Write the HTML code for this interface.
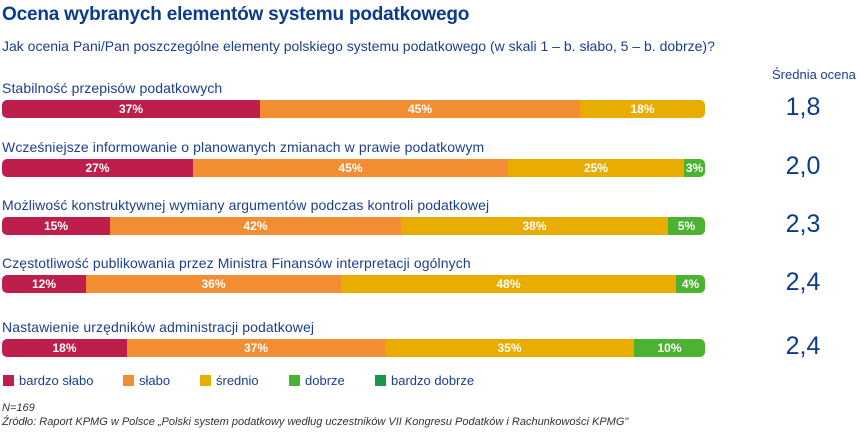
<!DOCTYPE html>
<html><head><meta charset="utf-8"><style>
body{margin:0;width:861px;height:448px;background:#fff;font-family:"Liberation Sans",sans-serif;position:relative;overflow:hidden}
.a{position:absolute;white-space:nowrap}
.t{left:2px;top:4px;font-size:19px;font-weight:bold;color:#0b3c8c;letter-spacing:-0.2px}
.q{left:2px;top:38px;font-size:14px;color:#1a3f8f}
.l{left:2px;font-size:14px;color:#1a3f8f;letter-spacing:0.1px}
.bar{position:absolute;left:2px;width:703px;height:18px;border-radius:5px;overflow:hidden;display:flex}
.bar div{height:100%;color:#fff;font-size:12px;font-weight:bold;display:flex;align-items:center;justify-content:center}
.r{background:#be1e4b}.o{background:#f38d32}.y{background:#e9ac00}.g{background:#4bb232}.dg{background:#18984a}
.avg{left:760px;width:86px;text-align:center;font-size:25px;color:#0b3c8c}
.lg{top:373px;font-size:13px;color:#1a3f8f}
.sw{position:absolute;top:375px;width:11px;height:11px}
.f{left:2px;font-size:11px;font-style:italic;color:#333}
</style></head><body>
<div class="a t">Ocena wybranych elementów systemu podatkowego</div>
<div class="a q">Jak ocenia Pani/Pan poszczególne elementy polskiego systemu podatkowego (w skali 1 – b. słabo, 5 – b. dobrze)?</div>
<div class="a" style="left:772px;top:67px;font-size:13px;color:#1a3f8f">Średnia ocena</div>

<div class="a l" style="top:80px">Stabilność przepisów podatkowych</div>
<div class="bar" style="top:100px"><div class="r" style="width:258px">37%</div><div class="o" style="width:320px">45%</div><div class="y" style="flex:1">18%</div></div>
<div class="a avg" style="top:93px">1,8</div>

<div class="a l" style="top:139px">Wcześniejsze informowanie o planowanych zmianach w prawie podatkowym</div>
<div class="bar" style="top:159px"><div class="r" style="width:191px">27%</div><div class="o" style="width:315px">45%</div><div class="y" style="width:176px">25%</div><div class="g" style="flex:1">3%</div></div>
<div class="a avg" style="top:152px">2,0</div>

<div class="a l" style="top:197px">Możliwość konstruktywnej wymiany argumentów podczas kontroli podatkowej</div>
<div class="bar" style="top:217px"><div class="r" style="width:108px">15%</div><div class="o" style="width:291px">42%</div><div class="y" style="width:267px">38%</div><div class="g" style="flex:1">5%</div></div>
<div class="a avg" style="top:210px">2,3</div>

<div class="a l" style="top:255px">Częstotliwość publikowania przez Ministra Finansów interpretacji ogólnych</div>
<div class="bar" style="top:275px"><div class="r" style="width:84px">12%</div><div class="o" style="width:255px">36%</div><div class="y" style="width:335px">48%</div><div class="g" style="flex:1">4%</div></div>
<div class="a avg" style="top:268px">2,4</div>

<div class="a l" style="top:319px">Nastawienie urzędników administracji podatkowej</div>
<div class="bar" style="top:339px"><div class="r" style="width:125px">18%</div><div class="o" style="width:258px">37%</div><div class="y" style="width:249px">35%</div><div class="g" style="flex:1">10%</div></div>
<div class="a avg" style="top:332px">2,4</div>

<div class="sw r" style="left:3px"></div><div class="a lg" style="left:19px">bardzo słabo</div>
<div class="sw o" style="left:123px"></div><div class="a lg" style="left:139px">słabo</div>
<div class="sw y" style="left:200px"></div><div class="a lg" style="left:216px">średnio</div>
<div class="sw g" style="left:289px"></div><div class="a lg" style="left:305px">dobrze</div>
<div class="sw dg" style="left:375px"></div><div class="a lg" style="left:391px">bardzo dobrze</div>

<div class="a f" style="top:402px">N=169</div>
<div class="a f" style="top:416px">Źródło: Raport KPMG w Polsce „Polski system podatkowy według uczestników VII Kongresu Podatków i Rachunkowości KPMG"</div>
</body></html>
